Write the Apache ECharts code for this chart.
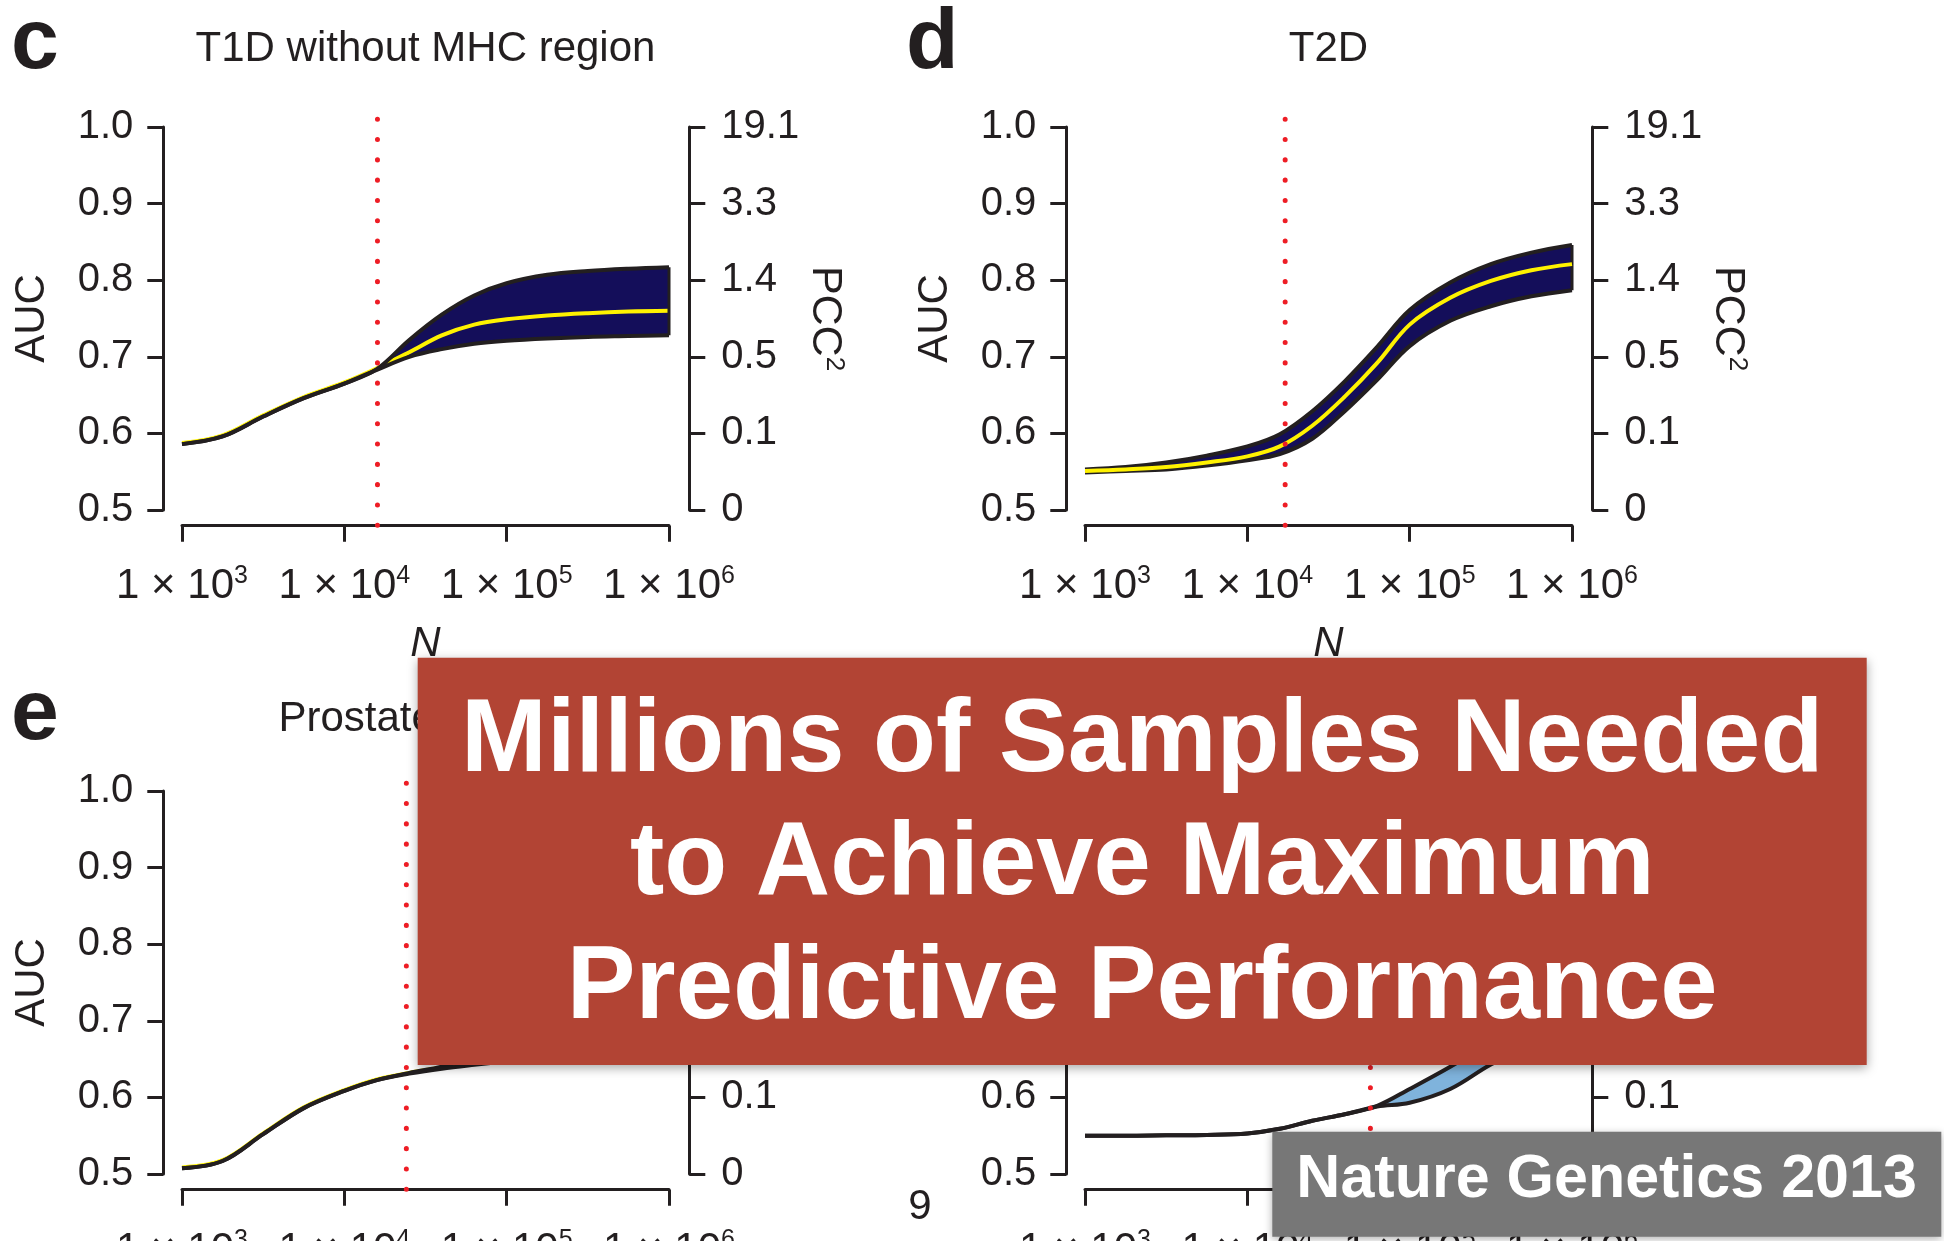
<!DOCTYPE html>
<html>
<head>
<meta charset="utf-8">
<script src="https://cdn.jsdelivr.net/npm/echarts@6/dist/echarts.min.js"></script>
<style>
  html, body { margin: 0; padding: 0; background: #ffffff; }
  #chart { width: 1944px; height: 1241px; }
</style>
</head>
<body>
<div id="chart"></div>
<script>
// Sample sizes N at which each curve is evaluated (log-spaced, 1e3 .. 1e6)
const sampleN = [1000, 1778, 3162, 5623, 10000, 15849, 25119, 39811, 63096, 100000, 177828, 316228, 562341, 1000000];

// Right-hand axis labels (PCC^2) for AUC ticks 0.5, 0.6, ..., 1.0
const pccLabels = ['0', '0.1', '0.5', '1.4', '3.3', '19.1'];

// c: T1D without MHC region
const t1dMid   = [0.5875, 0.5975, 0.6235, 0.6475, 0.6665, 0.685, 0.706, 0.728, 0.742, 0.749, 0.754, 0.757, 0.759, 0.760];
const t1dLower = [0.586, 0.596, 0.622, 0.646, 0.665, 0.683, 0.700, 0.710, 0.717, 0.721, 0.724, 0.726, 0.727, 0.728];
const t1dUpper = [0.586, 0.596, 0.622, 0.646, 0.665, 0.684, 0.722, 0.755, 0.780, 0.796, 0.807, 0.812, 0.815, 0.817];
const t1dCurrentN = 16000;

// d: T2D
const t2dMid   = [0.551, 0.553, 0.556, 0.562, 0.570, 0.583, 0.610, 0.648, 0.692, 0.742, 0.777, 0.799, 0.813, 0.821];
const t2dLower = [0.549, 0.551, 0.553, 0.558, 0.565, 0.573, 0.593, 0.629, 0.670, 0.714, 0.747, 0.766, 0.779, 0.787];
const t2dUpper = [0.553, 0.556, 0.562, 0.571, 0.583, 0.599, 0.629, 0.668, 0.713, 0.761, 0.797, 0.821, 0.836, 0.846];
const t2dCurrentN = 17100;

// e: Prostate cancer
const prostateMid   = [0.5085, 0.518, 0.553, 0.587, 0.6095, 0.6235, 0.632, 0.639, 0.646, 0.655, 0.667, 0.676, 0.680, 0.682];
const prostateLower = [0.5075, 0.517, 0.552, 0.586, 0.6085, 0.6225, 0.631, 0.6375, 0.6425, 0.647, 0.652, 0.655, 0.657, 0.658];
const prostateUpper = [0.5075, 0.517, 0.552, 0.586, 0.6085, 0.6225, 0.632, 0.640, 0.652, 0.668, 0.690, 0.705, 0.713, 0.716];
const prostateCurrentN = 24100;

// f: fourth panel (interval only)
const fLower = [0.550, 0.550, 0.5505, 0.551, 0.553, 0.559, 0.5695, 0.578, 0.588, 0.593, 0.611, 0.643, 0.668, 0.685];
const fUpper = [0.550, 0.550, 0.5505, 0.551, 0.553, 0.559, 0.5695, 0.578, 0.589, 0.611, 0.640, 0.672, 0.700, 0.715];
const fCurrentN = 57300;

const INK = '#231f20';
const FONT = '"Liberation Sans", Arial, Helvetica, sans-serif';

// Panel frames: the x-axis ticks span [left, left+W], AUC 1.0..0.5 spans [top, top+H]
const COL_LEFT = [182, 1085];
const ROW_TOP = [127, 791];
const W = 487;
const H = 383;

const panels = [
  { col: 0, row: 0, letter: 'c', title: 'T1D without MHC region', lower: t1dLower, mid: t1dMid, upper: t1dUpper,
    fill: '#140e5a', currentN: t1dCurrentN, midUnder: true },
  { col: 1, row: 0, letter: 'd', title: 'T2D', lower: t2dLower, mid: t2dMid, upper: t2dUpper,
    fill: '#140e5a', currentN: t2dCurrentN, midUnder: false },
  { col: 0, row: 1, letter: 'e', title: 'Prostate cancer', lower: prostateLower, mid: prostateMid, upper: prostateUpper,
    fill: '#140e5a', currentN: prostateCurrentN, midUnder: true },
  { col: 1, row: 1, letter: null, title: null, lower: fLower, mid: null, upper: fUpper,
    fill: '#7fb3dc', currentN: fCurrentN, midUnder: true }
];

const grids = [], xAxes = [], yAxes = [], series = [], graphics = [];

const axisLineStyle = { color: INK, width: 3 };

panels.forEach((p, i) => {
  const left = COL_LEFT[p.col], top = ROW_TOP[p.row];
  grids.push({ left: left, top: top, width: W, height: H, containLabel: false, outerBoundsMode: 'none' });

  xAxes.push({
    gridIndex: i, type: 'log', logBase: 10, min: 1000, max: 1000000,
    position: 'bottom', offset: 15.7,
    axisLine: { show: true, lineStyle: axisLineStyle },
    axisTick: { show: true, inside: false, length: 16, lineStyle: axisLineStyle },
    minorTick: { show: false }, splitLine: { show: false },
    axisLabel: {
      margin: 38, interval: 0, hideOverlap: false,
      formatter: v => '{m|1 \u00d7 10}{s|' + Math.round(Math.log10(v)) + '}',
      rich: {
        m: { fontSize: 42, fontFamily: FONT, color: INK, lineHeight: 46 },
        s: { fontSize: 25, fontFamily: FONT, color: INK, verticalAlign: 'top', lineHeight: 20 }
      }
    },
    name: 'N', nameLocation: 'middle', nameGap: 98,
    nameTextStyle: { fontSize: 42, fontStyle: 'italic', fontFamily: FONT, color: INK }
  });

  yAxes.push({
    gridIndex: i, type: 'value', min: 0.5, max: 1.0, interval: 0.1,
    position: 'left', offset: 18.7,
    axisLine: { show: true, lineStyle: axisLineStyle },
    axisTick: { show: true, inside: false, length: 16, lineStyle: axisLineStyle },
    splitLine: { show: false },
    axisLabel: { margin: 30, fontSize: 40, fontFamily: FONT, color: INK, formatter: v => v.toFixed(1) },
    name: 'AUC', nameLocation: 'middle', nameGap: 110, nameRotate: 90,
    nameTextStyle: { fontSize: 42, fontFamily: FONT, color: INK }
  });

  yAxes.push({
    gridIndex: i, type: 'value', min: 0.5, max: 1.0, interval: 0.1,
    position: 'right', offset: 20.3,
    axisLine: { show: true, lineStyle: axisLineStyle },
    axisTick: { show: true, inside: false, length: 16, lineStyle: axisLineStyle },
    splitLine: { show: false },
    axisLabel: { margin: 32, fontSize: 40, fontFamily: FONT, color: INK,
      formatter: v => pccLabels[Math.round((v - 0.5) * 10)] },
    name: '{b|PCC}{s|2}', nameLocation: 'middle', nameGap: 98, nameRotate: -90,
    nameTextStyle: {
      rich: {
        b: { fontSize: 43, fontFamily: FONT, color: INK, lineHeight: 46 },
        s: { fontSize: 26, fontFamily: FONT, color: INK, verticalAlign: 'top', lineHeight: 26 }
      }
    }
  });

  const common = { xAxisIndex: i, yAxisIndex: 2 * i, symbol: 'none', smooth: 0.35, silent: true, animation: false };
  const pairs = (arr) => sampleN.map((n, k) => [n, arr[k]]);
  const last = sampleN.length - 1;

  // Interval band: fill under the upper bound, then mask below the lower bound with the page colour
  series.push(Object.assign({}, common, {
    type: 'line', data: pairs(p.upper),
    lineStyle: { opacity: 0 }, areaStyle: { color: p.fill, opacity: 1, origin: 'start' }, z: 2
  }));
  series.push(Object.assign({}, common, {
    type: 'line', data: pairs(p.lower),
    lineStyle: { opacity: 0 }, areaStyle: { color: '#ffffff', opacity: 1, origin: 'start' }, z: 2
  }));

  const midSeries = p.mid ? Object.assign({}, common, {
    type: 'line', data: pairs(p.mid), lineStyle: { color: '#fff200', width: 4 }, z: 3
  }) : null;
  const edge = (arr) => Object.assign({}, common, {
    type: 'line', data: pairs(arr), lineStyle: { color: INK, width: 4 }, z: 3
  });

  if (midSeries && p.midUnder) series.push(midSeries);
  series.push(edge(p.upper));
  series.push(edge(p.lower));
  // closing edge of the band at N = 1e6
  series.push(Object.assign({}, common, {
    type: 'line', smooth: false, z: 3,
    data: [[sampleN[last], p.upper[last]], [sampleN[last], p.lower[last]]],
    lineStyle: { color: INK, width: 3 }
  }));
  if (midSeries && !p.midUnder) series.push(midSeries);

  // Current sample size: red dotted vertical line across the plot region
  series.push(Object.assign({}, common, {
    type: 'line', smooth: false, clip: false, z: 4,
    data: [[p.currentN, 0.48], [p.currentN, 1.013]],
    lineStyle: { color: '#ee1d25', width: 5, type: [0.1, 20.2], cap: 'round' }
  }));

  if (p.title) {
    graphics.push({
      type: 'text', x: left + W / 2, y: p.row === 0 ? 49 : 719, z: 10,
      style: { text: p.title, fontSize: 42, fontFamily: FONT, fill: INK, align: 'center', verticalAlign: 'middle' }
    });
  }
  if (p.letter) {
    graphics.push({
      type: 'text', x: p.col === 0 ? 11 : 906, y: p.row === 0 ? 44 : 715, z: 10,
      style: { text: p.letter, fontSize: 86, fontWeight: 'bold', fontFamily: FONT, fill: INK, align: 'left', verticalAlign: 'middle' }
    });
  }
});

// Page number
graphics.push({
  type: 'text', x: 920, y: 1207, z: 10,
  style: { text: '9', fontSize: 42, fontFamily: FONT, fill: INK, align: 'center', verticalAlign: 'middle' }
});

// Headline banner
graphics.push({
  type: 'rect', z: 50,
  shape: { x: 417.7, y: 657.7, width: 1449, height: 407.3 },
  style: { fill: '#b24434', shadowBlur: 10, shadowOffsetX: 0, shadowOffsetY: 3, shadowColor: 'rgba(0,0,0,0.35)' }
});
graphics.push({
  type: 'text', x: 1142.2, y: 866, z: 51,
  style: {
    text: 'Millions of Samples Needed\nto Achieve Maximum\nPredictive Performance',
    fontSize: 103, fontWeight: 'bold', fontFamily: FONT, fill: '#ffffff',
    align: 'center', verticalAlign: 'middle', lineHeight: 123.2
  }
});

// Source tag
graphics.push({
  type: 'rect', z: 50,
  shape: { x: 1272.3, y: 1131.7, width: 669, height: 105 },
  style: { fill: '#777777', shadowBlur: 8, shadowOffsetX: 0, shadowOffsetY: 2, shadowColor: 'rgba(0,0,0,0.3)' }
});
graphics.push({
  type: 'text', x: 1606.6, y: 1180, z: 51,
  style: { text: 'Nature Genetics 2013', fontSize: 61, fontWeight: 'bold', fontFamily: FONT, fill: '#ffffff',
    align: 'center', verticalAlign: 'middle' }
});

const chart = echarts.init(document.getElementById('chart'), null, { renderer: 'canvas' });
chart.setOption({
  backgroundColor: '#ffffff',
  animation: false,
  grid: grids,
  xAxis: xAxes,
  yAxis: yAxes,
  series: series,
  graphic: { elements: graphics }
});
</script>
</body>
</html>
